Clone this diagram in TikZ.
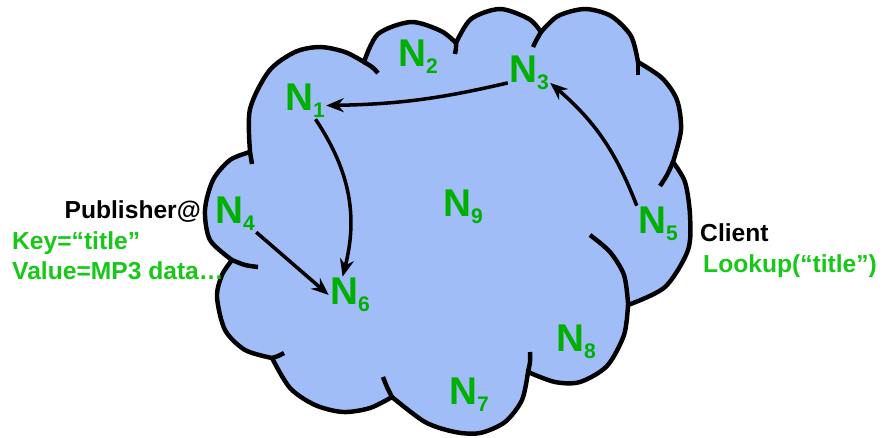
\documentclass[tikz,border=0pt]{standalone}
\usepackage{fontspec}
\setmainfont{Liberation Sans}
\usepackage{tikz}
\usetikzlibrary{arrows.meta}
\definecolor{cloudblue}{HTML}{A0BDF8}
\definecolor{nodegreen}{HTML}{00B000}
\definecolor{textgreen}{HTML}{18C818}
\newcommand{\nsub}[1]{N\raisebox{-6pt}{\fontsize{18}{18}\selectfont #1}}

\begin{document}
\begin{tikzpicture}[
    x=0.03cm, y=-0.03cm,
    every node/.style={font=\bfseries},
    nd/.style={text=nodegreen, font=\fontsize{33}{33}\selectfont\bfseries, inner sep=1pt},
    lbl/.style={font=\fontsize{21}{23}\selectfont\bfseries, inner sep=0pt},
    arr/.style={-{Stealth[length=15pt,width=12pt]}, line width=3pt},
    rim/.style={line width=3.8pt},
]
    \useasboundingbox (0,0) rectangle (886,437);

    % cloud outline
    \filldraw[rim, fill=cloudblue] (250,152)
        -- plot[smooth] coordinates {(250,151) (250,109) (269,71) (295,52) (320,47) (345,52) (364,62)}
        -- plot[smooth] coordinates {(364,62) (378,34) (411,22) (441,31) (456,43)}
        -- plot[smooth] coordinates {(456,43) (471,19) (500,9) (529,19) (541,32)}
        -- plot[smooth] coordinates {(541,32) (558,16) (585,9) (611,16) (631,36) (638,62)}
        -- plot[smooth] coordinates {(638,62) (662,78) (677,100) (681,130) (673,162)}
        -- plot[smooth] coordinates {(673,162) (685,182) (690,215) (688,250) (665,287) (628,305)}
        -- plot[smooth] coordinates {(628,305) (624,335) (607,366) (580,382) (555,382) (528,372)}
        -- plot[smooth] coordinates {(528,372) (522,400) (505,422) (480,433) (455,432) (425,422) (392,397)}
        -- plot[smooth] coordinates {(392,397) (370,408) (343,412) (315,405) (290,388) (272,358)}
        -- plot[smooth] coordinates {(272,358) (245,350) (225,330) (217,297) (222,275) (232,260)}
        -- plot[smooth] coordinates {(232,260) (210,240) (205,210) (213,180) (230,160) (250,152)}
        -- cycle;

    % inner folds
    \draw[rim] plot[smooth] coordinates {(364,62) (372,67) (378,73)};
    \draw[rim] plot[smooth] coordinates {(456,43) (456,48) (455,54)};
    \draw[rim] plot[smooth] coordinates {(541,32) (537,39) (533,47)};
    \draw[rim] plot[smooth] coordinates {(638,62) (638,69) (638,75)};
    \draw[rim] plot[smooth] coordinates {(673,162) (667,175) (660,186)};
    \draw[rim] plot[smooth] coordinates {(628,303) (624,275) (610,252) (590,235)};
    \draw[rim] plot[smooth] coordinates {(528,372) (530,362) (530,352)};
    \draw[rim] plot[smooth] coordinates {(392,397) (387,387) (383,377)};
    \draw[rim] plot[smooth] coordinates {(272,358) (278,356) (284,353)};
    \draw[rim] plot[smooth] coordinates {(232,260) (245,265) (258,267)};
    \draw[rim] plot[smooth] coordinates {(250,152) (251,158) (252,164)};

    % peers
    \node[nd] (n1) at (305,101) {\nsub{1}};
    \node[nd] (n2) at (418,57) {\nsub{2}};
    \node[nd] (n3) at (529,73) {\nsub{3}};
    \node[nd] (n4) at (235,214) {\nsub{4}};
    \node[nd] (n5) at (658,224) {\nsub{5}};
    \node[nd] (n6) at (350,295) {\nsub{6}};
    \node[nd] (n7) at (469,395) {\nsub{7}};
    \node[nd] (n8) at (576,342) {\nsub{8}};
    \node[nd] (n9) at (463,207) {\nsub{9}};

    % side labels
    \node[lbl, anchor=east] (pub) at (201,212) {Publisher@};
    \node[lbl, anchor=west, text=textgreen] (key) at (12,243) {Key=“title”};
    \node[lbl, anchor=west, text=textgreen] (val) at (12,271) {Value=MP3 data…};
    \node[lbl, anchor=west] (client) at (700,233) {Client};
    \node[lbl, anchor=west, text=textgreen] (lookup) at (703,266) {Lookup(“title”)};

    % lookup path
    \draw[arr] (n3.205) to[bend left=6] (n1.-12);
    \draw[arr] (n1.-60) to[bend left=24] (n6.112);
    \draw[arr] (n4.south east) -- (n6.west);
    \draw[arr] (n5.north west) to[bend right=14] (n3.-25);
\end{tikzpicture}
\end{document}
